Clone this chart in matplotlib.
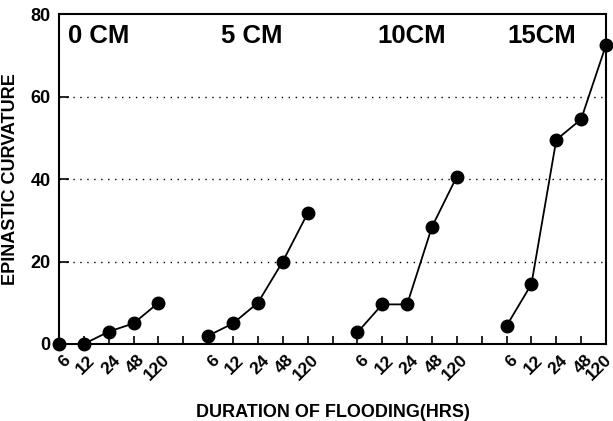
import matplotlib.pyplot as plt

hours = ["6", "12", "24", "48", "120"]
depths = ["0 CM", "5 CM", "10CM", "15CM"]
curv_0cm = [0, 0, 3, 5, 10]
curv_5cm = [2, 5, 10, 20, 31.7]
curv_10cm = [2.8, 9.6, 9.6, 28.4, 40.6]
curv_15cm = [4.4, 14.5, 49.5, 54.5, 72.5]
label_x = [0.36, 6.5, 12.8, 18.05]

plt.rcParams['font.family'] = ['Liberation Sans', 'DejaVu Sans']
plt.rcParams['font.weight'] = 'bold'

fig = plt.figure(figsize=(6.13, 4.21), dpi=100)
ax = fig.add_axes([0.0963, 0.1829, 0.8923, 0.7838])

series = [curv_0cm, curv_5cm, curv_10cm, curv_15cm]
tick_pos = []
tick_lab = []
for g, vals in enumerate(series):
    xs = [g * 6 + i for i in range(len(vals))]
    ax.plot(xs, vals, color='black', lw=1.3, marker='o', markersize=9,
            markerfacecolor='black', clip_on=False, zorder=3)
    tick_pos += xs
    tick_lab += hours
    ax.text(label_x[g], 74.6, depths[g], fontsize=18.5, fontweight='bold',
            ha='left', va='center')

ax.set_xlim(0, 22)
ax.set_ylim(0, 80)
ax.set_xticks(range(23), minor=True)
ax.set_xticks(tick_pos)
ax.set_xticklabels([])
# rotated hour labels drawn by hand so each can be nudged
for i, (x, lab) in enumerate(zip(tick_pos, tick_lab)):
    dx = 2.5 if i < len(tick_pos) - 1 else -1.5
    ax.annotate(lab, xy=(x, 0), xycoords=('data', 'axes fraction'),
                xytext=(dx, -6), textcoords='offset points',
                rotation=45, ha='right', va='top', rotation_mode='anchor',
                fontsize=12.5, fontweight='bold', annotation_clip=False)
ax.tick_params(axis='x', which='both', direction='in', length=6, width=1.2)
ax.set_yticks([0, 20, 40, 60, 80])
ax.set_yticklabels(['0', '20', '40', '60', '80'], fontsize=13, fontweight='bold')
ax.tick_params(axis='y', direction='in', length=7, width=1.2, pad=6)
for y in [20, 40, 60]:
    ax.axhline(y, color='black', lw=1, ls=(0, (1, 4)), zorder=1)
for sp in ax.spines.values():
    sp.set_linewidth(1.5)

ax.set_ylabel("EPINASTIC CURVATURE", fontsize=13, fontweight='bold', labelpad=8)
ax.set_xlabel("DURATION OF FLOODING(HRS)", fontsize=13, fontweight='bold', labelpad=40)

fig.savefig("out.png", dpi=100)
